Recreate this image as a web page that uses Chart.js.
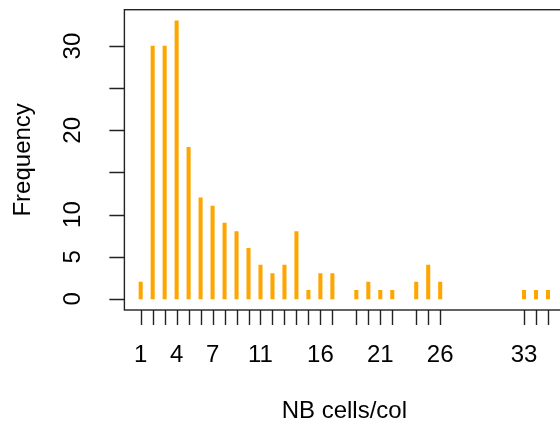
<!DOCTYPE html>
<html>
<head>
<meta charset="utf-8">
<script src="https://cdn.jsdelivr.net/npm/chart.js@4"></script>
<style>
  html, body { margin: 0; padding: 0; background: #fff; overflow: hidden; }
  #wrap { width: 560px; height: 430px; overflow: hidden; }
</style>
</head>
<body>
<div id="wrap"><canvas id="chart" width="566" height="430"></canvas></div>
<script>
// number of cells per column (x) and how often each occurs
const cellsPerCol = [1, 2, 3, 4, 5, 6, 7, 8, 9, 10, 11, 12, 13, 14, 15, 16, 17,
                     19, 20, 21, 22, 24, 25, 26, 33, 34, 35];
const frequency = [2, 30, 30, 33, 18, 12, 11, 9, 8, 6, 4, 3, 4, 8, 1, 3, 3,
                   1, 2, 1, 1, 2, 4, 2, 1, 1, 1];

// axis ticks / labels (R drops some labels when they would overlap)
const xTickLabels = [1, 4, 7, 11, 16, 21, 26, 33];
const yTicks = [0, 5, 10, 15, 20, 25, 30];
const yTickLabels = [0, 5, 10, 20, 30];

const xTitle = 'NB cells/col';
const yTitle = 'Frequency';

const FONT = '24px "Liberation Sans", Arial, sans-serif';

// draws the R-style box, ticks and labels from the chart's own scales
const rAxes = {
  id: 'rAxes',
  afterDraw(chart) {
    const { ctx, chartArea: a, scales: { x, y } } = chart;
    ctx.save();
    ctx.strokeStyle = '#222';
    ctx.lineWidth = 1.4;
    ctx.strokeRect(a.left, a.top, a.right - a.left, a.bottom - a.top);

    ctx.beginPath();
    yTicks.forEach(v => {
      const py = Math.round(y.getPixelForValue(v)) + 0.5;
      ctx.moveTo(a.left - 15, py);
      ctx.lineTo(a.left, py);
    });
    cellsPerCol.forEach(v => {
      const px = Math.round(x.getPixelForValue(v)) + 0.5;
      ctx.moveTo(px, a.bottom);
      ctx.lineTo(px, a.bottom + 15);
    });
    ctx.stroke();

    ctx.fillStyle = '#000';
    ctx.font = FONT;
    ctx.textAlign = 'center';
    ctx.textBaseline = 'middle';

    xTickLabels.forEach(v => {
      ctx.fillText(String(v), x.getPixelForValue(v), a.bottom + 45);
    });
    ctx.fillText(xTitle, (a.left + a.right) / 2, a.bottom + 101);

    yTickLabels.forEach(v => {
      ctx.save();
      ctx.translate(a.left - 51, y.getPixelForValue(v));
      ctx.rotate(-Math.PI / 2);
      ctx.fillText(String(v), 0, 0);
      ctx.restore();
    });

    ctx.save();
    ctx.translate(a.left - 101, (a.top + a.bottom) / 2);
    ctx.rotate(-Math.PI / 2);
    ctx.fillText(yTitle, 0, 0);
    ctx.restore();

    ctx.restore();
  }
};

new Chart(document.getElementById('chart'), {
  type: 'bar',
  data: {
    datasets: [{
      data: cellsPerCol.map((c, i) => ({ x: c, y: frequency[i] })),
      backgroundColor: '#FFA500',
      borderWidth: 0,
      barThickness: 3.4
    }]
  },
  options: {
    responsive: false,
    animation: false,
    layout: { padding: { left: 124.4, right: 1.7, top: 9.7, bottom: 120 } },
    plugins: { legend: { display: false }, tooltip: { enabled: false } },
    scales: {
      x: { type: 'linear', min: -0.36, max: 36.36, display: false, offset: false },
      y: { type: 'linear', min: -1.32, max: 34.32, display: false }
    }
  },
  plugins: [rAxes]
});
</script>
</body>
</html>
